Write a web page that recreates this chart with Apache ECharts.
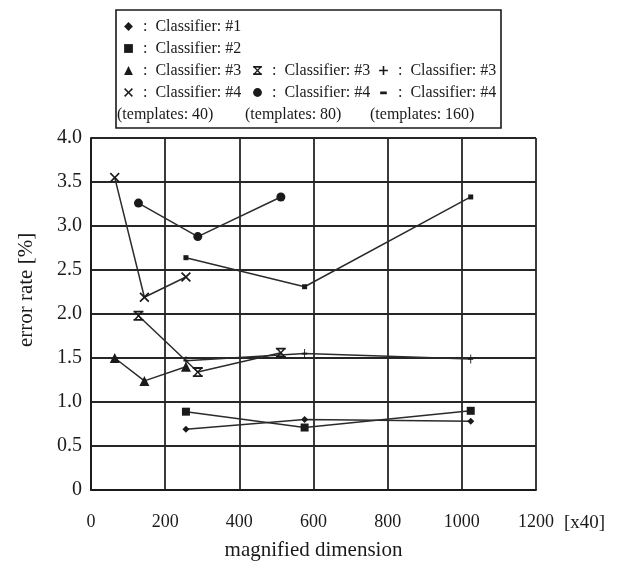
<!DOCTYPE html>
<html>
<head>
<meta charset="utf-8">
<script src="https://cdn.jsdelivr.net/npm/echarts@6/dist/echarts.min.js"></script>
<style>html,body{margin:0;padding:0;background:#fff}#c{width:627px;height:571px}</style>
</head>
<body>
<div id="c"></div>
<script>
// ---- data (x in units of [x40], y = error rate %) ----
var xTicks = [0, 200, 400, 600, 800, 1000, 1200];
var yTicks = [0, 0.5, 1.0, 1.5, 2.0, 2.5, 3.0, 3.5, 4.0];

var c1X = [256, 576, 1024];   var c1Y = [0.69, 0.80, 0.78];   // Classifier #1
var c2X = [256, 576, 1024];   var c2Y = [0.89, 0.71, 0.90];   // Classifier #2
var c3aX = [64, 144, 256];    var c3aY = [1.50, 1.24, 1.40];  // #3 templates 40
var c3bX = [128, 288, 512];   var c3bY = [1.98, 1.34, 1.56];  // #3 templates 80
var c3cX = [256, 576, 1024];  var c3cY = [1.47, 1.55, 1.49];  // #3 templates 160
var c4aX = [64, 144, 256];    var c4aY = [3.55, 2.19, 2.42];  // #4 templates 40
var c4bX = [128, 288, 512];   var c4bY = [3.26, 2.88, 3.33];  // #4 templates 80
var c4cX = [256, 576, 1024];  var c4cY = [2.64, 2.31, 3.33];  // #4 templates 160

var legendText = {
  'c1': 'Classifier: #1', 'c2': 'Classifier: #2',
  'c3a': 'Classifier: #3', 'c3b': 'Classifier: #3', 'c3c': 'Classifier: #3',
  'c4a': 'Classifier: #4', 'c4b': 'Classifier: #4', 'c4c': 'Classifier: #4'
};
var templateLabels = ['(templates: 40)', '(templates: 80)', '(templates: 160)'];

function pairs(xs, ys) { return xs.map(function (x, i) { return [x, ys[i]]; }); }

var FONT = '"Liberation Serif", "DejaVu Serif", serif';
var INK = '#1a1a1a';

var SYM_X = 'path://M0,1.2 L1.2,0 L5,3.8 L8.8,0 L10,1.2 L6.2,5 L10,8.8 L8.8,10 L5,6.2 L1.2,10 L0,8.8 L3.8,5 Z';
var SYM_HOUR = 'path://M0,0 H10 V1.8 H0 Z M0,8.2 H10 V10 H0 Z M1,1.8 L3,1.8 L5,4 L7,1.8 L9,1.8 L6,5 L9,8.2 L7,8.2 L5,6 L3,8.2 L1,8.2 L4,5 Z';
var SYM_PLUS = 'path://M4.1,0 H5.9 V4.1 H10 V5.9 H5.9 V10 H4.1 V5.9 H0 V4.1 H4.1 Z';
// small dash centred in a 10x10 box (tiny corner specks fix the box size)
var SYM_DASH = 'path://M0,0 L0.05,0 L0,0.05 Z M2,4.2 H8 V6.6 H2 Z M10,10 L9.95,10 L10,9.95 Z';

function mk(name, xs, ys, symbol, size) {
  return {
    name: name, type: 'line', data: pairs(xs, ys),
    symbol: symbol, symbolSize: size, legendIcon: symbol,
    showAllSymbol: true, animation: false,
    lineStyle: { color: '#2b2b2b', width: 1.5 },
    itemStyle: { color: INK, borderWidth: 0 },
    emphasis: { disabled: true }
  };
}

var series = [
  mk('c1', c1X, c1Y, 'diamond', 7),
  mk('c2', c2X, c2Y, 'rect', 8),
  mk('c3a', c3aX, c3aY, 'triangle', 10),
  mk('c3b', c3bX, c3bY, SYM_HOUR, 10),
  mk('c3c', c3cX, c3cY, SYM_PLUS, [5, 9]),
  mk('c4a', c4aX, c4aY, SYM_X, 10),
  mk('c4b', c4bX, c4bY, 'circle', 9),
  mk('c4c', c4cX, c4cY, 'rect', 5)
];
series[7].legendIcon = SYM_DASH;

function legendFmt(n) { return ' :  ' + legendText[n]; }
function lg(extra) {
  var o = {
    orient: 'vertical', itemWidth: 11, itemHeight: 11, itemGap: 5,
    selectedMode: false, padding: 0,
    lineStyle: { width: 0, opacity: 0 },
    textStyle: { fontFamily: FONT, fontSize: 16, color: INK, lineHeight: 17 },
    formatter: legendFmt
  };
  for (var k in extra) o[k] = extra[k];
  return o;
}

var chart = echarts.init(document.getElementById('c'), null, { renderer: 'canvas' });
chart.setOption({
  backgroundColor: '#fff',
  animation: false,
  grid: { left: 91, right: 91, top: 138, bottom: 81, containLabel: false },
  legend: [
    lg({ left: 123, top: 18, data: ['c1', 'c2', 'c3a', 'c4a'] }),
    lg({ left: 252, top: 62, data: ['c3b', 'c4b'] }),
    lg({ left: 378, top: 62, data: ['c3c', { name: 'c4c', icon: SYM_DASH }] })
  ],
  xAxis: {
    type: 'value', min: xTicks[0], max: xTicks[xTicks.length - 1], interval: 200,
    name: 'magnified dimension', nameLocation: 'middle', nameGap: 50,
    nameTextStyle: { fontFamily: FONT, fontSize: 21, color: INK },
    axisLine: { show: true, lineStyle: { color: INK, width: 1.8 } },
    axisTick: { show: false },
    axisLabel: { margin: 23, fontFamily: FONT, fontSize: 18, color: INK,
      formatter: function (v) { return String(v); } },
    splitLine: { show: true, lineStyle: { color: '#262626', width: 1.8 } }
  },
  yAxis: {
    type: 'value', min: yTicks[0], max: yTicks[yTicks.length - 1], interval: 0.5,
    axisLine: { show: true, lineStyle: { color: INK, width: 1.8 } },
    axisTick: { show: false },
    axisLabel: { margin: 9, fontFamily: FONT, fontSize: 20, color: INK,
      formatter: function (v) { return v === 0 ? '0' : v.toFixed(1); } },
    splitLine: { show: true, lineStyle: { color: '#262626', width: 1.8 } }
  },
  graphic: [
    { type: 'rect', shape: { x: 116, y: 10, width: 385, height: 118 },
      style: { fill: 'none', stroke: INK, lineWidth: 1.6 }, z: 100 },
    { type: 'text', x: 117, y: 115, style: { text: templateLabels[0], font: '16px ' + FONT, fill: INK, verticalAlign: 'middle' }, z: 100 },
    { type: 'text', x: 245, y: 115, style: { text: templateLabels[1], font: '16px ' + FONT, fill: INK, verticalAlign: 'middle' }, z: 100 },
    { type: 'text', x: 370, y: 115, style: { text: templateLabels[2], font: '16px ' + FONT, fill: INK, verticalAlign: 'middle' }, z: 100 },
    { type: 'text', x: 564, y: 523, style: { text: '[x40]', font: '19px ' + FONT, fill: INK, verticalAlign: 'middle' }, z: 100 },
    { type: 'text', x: 26, y: 290, rotation: Math.PI / 2,
      style: { text: 'error rate [%]', font: '21px ' + FONT, fill: INK, align: 'center', verticalAlign: 'middle' }, z: 100 }
  ],
  series: series
});
</script>
</body>
</html>
